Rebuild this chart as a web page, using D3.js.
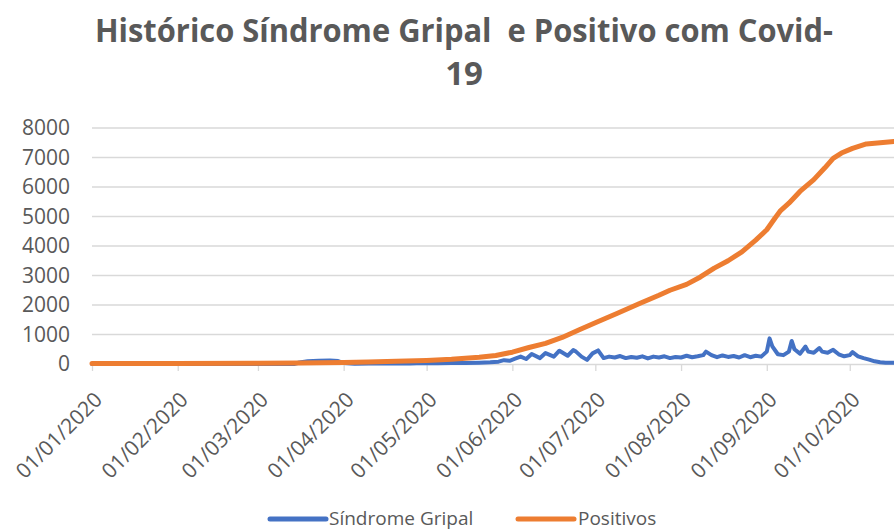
<!DOCTYPE html>
<html><head><meta charset="utf-8">
<script src="https://cdn.jsdelivr.net/npm/d3@7"></script>
<style>
html,body{margin:0;padding:0;background:#fff;}
svg{display:block;font-family:"Open Sans",sans-serif;}
</style></head>
<body><svg id="c" width="894" height="531"></svg>
<script>
// ---- data ----
const titulo1 = "Histórico Síndrome Gripal  e Positivo com Covid-";
const titulo2 = "19";
const serieNomes = ["Síndrome Gripal", "Positivos"];
const yTicks = [0, 1000, 2000, 3000, 4000, 5000, 6000, 7000, 8000];
const xTickLabels = ["01/01/2020","01/02/2020","01/03/2020","01/04/2020","01/05/2020","01/06/2020","01/07/2020","01/08/2020","01/09/2020","01/10/2020"];
// day offsets from 01/01/2020
const sgDia = [0,73,75,78,82,86,89,91,95,100,105,110,115,120,125,130,135,140,144,147,149,151,153,155,157,159,162,164,167,169,172,174,175,177,179,181,183,185,187,189,191,193,195,197,199,201,203,205,207,209,211,213,215,217,219,221,222,224,226,228,230,232,234,236,238,240,242,244,245,246,248,250,252,253,254,256,258,259,261,263,264,266,268,270,272,274,275,277,279,281,283,285,287,290];
const sgValor = [0,0,50,90,110,120,100,30,10,20,15,25,20,30,25,35,30,45,60,80,130,110,180,250,170,340,200,370,250,450,280,470,420,250,140,360,460,200,250,220,270,200,240,210,260,190,250,220,260,200,240,220,280,230,260,300,420,300,230,290,240,270,220,300,230,280,250,420,870,600,330,300,420,780,500,350,590,420,380,540,420,380,480,330,260,300,400,260,200,150,90,60,40,40];
const posDia = [0,30,60,75,91,100,110,121,130,140,146,152,158,164,170,176,182,190,198,205,209,215,220,225,230,235,240,244,247,249,252,256,261,265,268,271,275,280,285,290];
const posValor = [20,20,25,35,50,70,90,120,160,230,290,400,560,700,900,1150,1400,1720,2050,2330,2500,2700,2950,3250,3500,3800,4200,4550,4950,5200,5450,5850,6250,6650,6970,7150,7310,7460,7500,7540];
const cores = ["#4472C4", "#ED7D31"];

// ---- chart ----
const svg = d3.select("#c");
const parse = d3.timeParse("%d/%m/%Y");
const inicio = new Date(2020, 0, 1);
const dia = d => d3.timeDay.offset(inicio, d);
const x = d3.scaleTime().domain([inicio, dia(290)]).range([92, 894]);
const y = d3.scaleLinear().domain([0, 8000]).range([364, 128]);

// title
svg.append("text").attr("x", 464).attr("y", 42).attr("text-anchor", "middle")
  .attr("font-weight", "bold").attr("font-size", 33).attr("fill", "#595959")
  .style("white-space", "pre").attr("textLength", 738).attr("lengthAdjust", "spacingAndGlyphs")
  .text(titulo1);
svg.append("text").attr("x", 464).attr("y", 85).attr("text-anchor", "middle")
  .attr("font-weight", "bold").attr("font-size", 33).attr("fill", "#595959")
  .text(titulo2);

// grid
svg.append("g").selectAll("line").data(yTicks.filter(v => v > 0)).join("line")
  .attr("x1", 92).attr("x2", 894).attr("y1", d => y(d)).attr("y2", d => y(d))
  .attr("stroke", "#d9d9d9").attr("stroke-width", 1.3);

// y axis labels
const ya = svg.append("g").attr("transform", "translate(92,0)")
  .call(d3.axisLeft(y).tickValues(yTicks).tickFormat(d => String(d)).tickSize(0).tickPadding(22));
ya.select(".domain").remove();
ya.selectAll("text").attr("font-size", 21).attr("fill", "#595959").attr("font-family", "Open Sans");

// x axis
const xa = svg.append("g").attr("transform", "translate(0,364)")
  .call(d3.axisBottom(x).tickValues(xTickLabels.map(parse)).tickFormat(d3.timeFormat("%d/%m/%Y")).tickSize(7).tickSizeOuter(0));
xa.select(".domain").attr("stroke", "#d9d9d9").attr("stroke-width", 1.3);
xa.selectAll(".tick line").attr("stroke", "#d9d9d9").attr("stroke-width", 1.3);
xa.selectAll("text").attr("font-size", 21).attr("fill", "#595959").attr("font-family", "Open Sans")
  .attr("text-anchor", "end").attr("dy", 0).attr("y", 0)
  .attr("transform", "translate(11,37) rotate(-45)");

// lines
const line = d3.line().x(d => x(dia(d[0]))).y(d => y(d[1]));
svg.append("path").datum(d3.zip(sgDia, sgValor)).attr("d", line)
  .attr("fill", "none").attr("stroke", cores[0]).attr("stroke-width", 4)
  .attr("stroke-linejoin", "round").attr("stroke-linecap", "round");
svg.append("path").datum(d3.zip(posDia, posValor)).attr("d", line)
  .attr("fill", "none").attr("stroke", cores[1]).attr("stroke-width", 5)
  .attr("stroke-linejoin", "round").attr("stroke-linecap", "round");

// legend
const leg = [{x: 270, tx: 329}, {x: 518, tx: 578}];
leg.forEach((l, i) => {
  svg.append("line").attr("x1", l.x).attr("x2", l.x + 56).attr("y1", 519).attr("y2", 519)
    .attr("stroke", cores[i]).attr("stroke-width", 5).attr("stroke-linecap", "round");
  svg.append("text").attr("x", l.tx).attr("y", 525).attr("font-size", 19).attr("fill", "#595959")
    .text(serieNomes[i]);
});
</script></body></html>
